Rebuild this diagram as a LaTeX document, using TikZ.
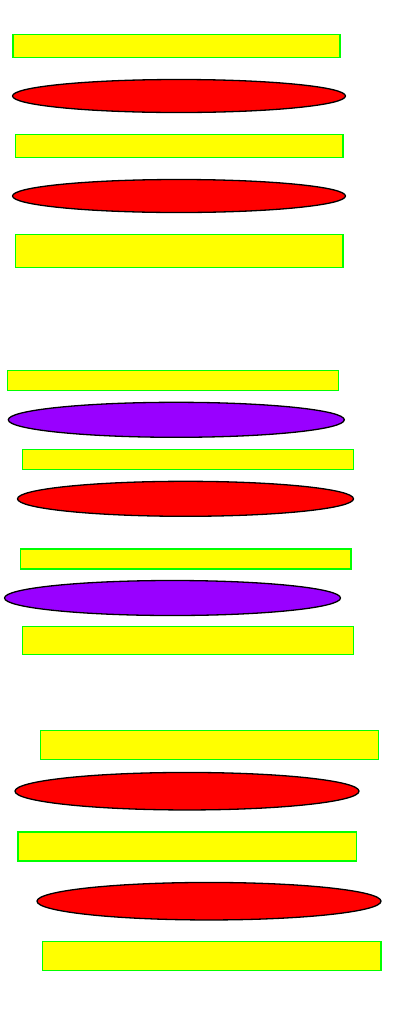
\documentclass[tikz,border=0pt]{standalone}
\usetikzlibrary{shapes.geometric}
\definecolor{boxfill}{RGB}{255,255,0}
\definecolor{boxline}{RGB}{0,255,0}
\definecolor{redfill}{RGB}{255,0,0}
\definecolor{purplefill}{RGB}{153,0,255}
\tikzset{
  bar/.style={rectangle, draw=boxline, fill=boxfill, line width=1.4pt, inner sep=0pt, outer sep=0pt},
  disc/.style={ellipse, draw=black, line width=1.3pt, inner sep=0pt, outer sep=0pt},
  reddisc/.style={disc, fill=redfill},
  purpledisc/.style={disc, fill=purplefill}
}
\begin{document}
\begin{tikzpicture}[x=1pt,y=-1pt]
\useasboundingbox (0,0) rectangle (393,1034);
% group 1
\node[bar, minimum width=327pt, minimum height=23.5pt] (r1) at (176.5,46) {};
\node[reddisc, minimum width=333pt, minimum height=33pt] (e1) at (179,96) {};
\node[bar, minimum width=327.5pt, minimum height=23.5pt] (r2) at (179.2,146) {};
\node[reddisc, minimum width=333pt, minimum height=33pt] (e2) at (179,196) {};
\node[bar, minimum width=327.5pt, minimum height=33.5pt] (r3) at (179.2,251) {};
% group 2
\node[bar, minimum width=331pt, minimum height=20pt] (r4) at (172.8,380.3) {};
\node[purpledisc, minimum width=336pt, minimum height=35pt] (e3) at (176.3,419.8) {};
\node[bar, minimum width=330.5pt, minimum height=20pt] (r5) at (188,459.3) {};
\node[reddisc, minimum width=336pt, minimum height=35pt] (e4) at (185.5,498.8) {};
\node[bar, minimum width=330.5pt, minimum height=20pt] (r6) at (185.7,559) {};
\node[purpledisc, minimum width=336pt, minimum height=35pt] (e5) at (172.5,598) {};
\node[bar, minimum width=330.5pt, minimum height=28pt] (r7) at (188,640.7) {};
% group 3
\node[bar, minimum width=338pt, minimum height=29pt] (r8) at (209.2,744.7) {};
\node[reddisc, minimum width=344pt, minimum height=37.5pt] (e6) at (187,791.2) {};
\node[bar, minimum width=338.5pt, minimum height=29pt] (r9) at (187.3,846.3) {};
\node[reddisc, minimum width=344pt, minimum height=37.5pt] (e7) at (209,901.2) {};
\node[bar, minimum width=338.3pt, minimum height=29pt] (r10) at (211.8,956) {};
\end{tikzpicture}
\end{document}
